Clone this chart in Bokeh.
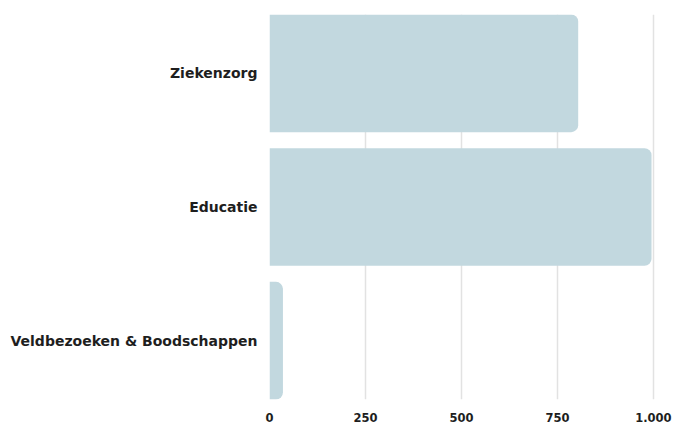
from bokeh.plotting import figure
from bokeh.models import Range1d, FixedTicker
from bokeh.embed import file_html
from bokeh.resources import INLINE

categories = ["Ziekenzorg", "Educatie", "Veldbezoeken & Boodschappen"]
values = [804, 995, 35]
tick_values = [0, 250, 500, 750, 1000]
tick_labels = ["0", "250", "500", "750", "1.000"]

n = len(categories)
ypos = [n - 1 - i for i in range(n)]

p = figure(width=672, height=424, output_backend="svg", toolbar_location=None,
           x_range=Range1d(0, 1034), y_range=Range1d(-0.44, n - 1 + 0.44),
           min_border_left=269, min_border_right=6, min_border_top=14, min_border_bottom=21)
p.outline_line_color = None
p.background_fill_color = "white"

p.hbar(y=ypos, right=values, left=0, height=0.88, color="#c2d8df",
       line_color=None, border_radius=(0, 7, 7, 0))

p.xaxis.ticker = FixedTicker(ticks=tick_values)
p.xaxis.major_label_overrides = {v: l for v, l in zip(tick_values, tick_labels)}
p.yaxis.ticker = FixedTicker(ticks=ypos)
p.yaxis.major_label_overrides = {y: c for y, c in zip(ypos, categories)}

for ax in (p.xaxis, p.yaxis):
    ax.axis_line_color = None
    ax.major_tick_line_color = None
    ax.minor_tick_line_color = None
    ax.major_label_text_font = "DejaVu Sans"
    ax.major_label_text_font_style = "bold"
    ax.major_label_text_color = "#1e1e1e"

p.xaxis.major_label_text_font_size = "11.5px"
p.xaxis.major_label_standoff = 7
p.yaxis.major_label_text_font_size = "14px"
p.yaxis.major_label_standoff = 6

p.xgrid.grid_line_color = "#e2e2e2"
p.xgrid.grid_line_width = 1.5
p.xgrid.level = "underlay"
p.ygrid.grid_line_color = None

open("out.html", "w").write(file_html(p, INLINE))
